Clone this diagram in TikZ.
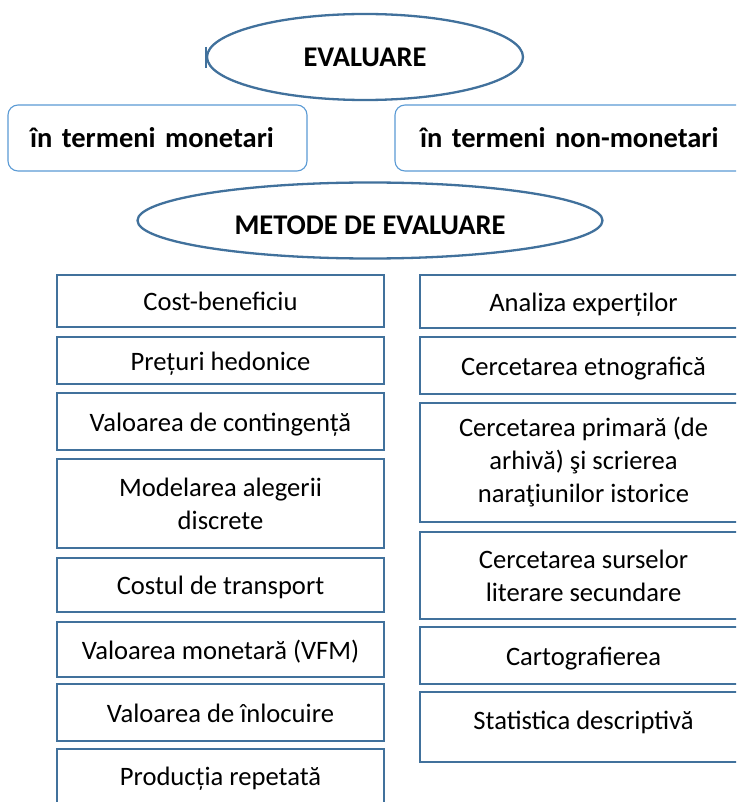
\documentclass[tikz,border=0pt]{standalone}
\usepackage{fontspec}
\setmainfont{Carlito}
\usetikzlibrary{shapes.geometric,calc}
\definecolor{edgeblue}{RGB}{65,113,156}
\definecolor{lightblue}{RGB}{91,155,213}
\begin{document}
\begin{tikzpicture}[x=1pt,y=-1pt,
  oval/.style={ellipse, draw=edgeblue, line width=2.3pt, inner sep=0pt,
    font=\fontsize{28.5}{34}\selectfont\bfseries},
  group/.style={rectangle, rounded corners=10pt, draw=lightblue, line width=1.1pt,
    inner ysep=0pt, align=left, minimum height=66pt,
    font=\fontsize{28.5}{34}\selectfont\bfseries},
  method/.style={rectangle, draw=edgeblue, line width=2.6pt, minimum width=327pt,
    inner sep=0pt, align=center, font=\fontsize{26.6}{33}\selectfont},
  oneline/.style={text height=21pt, text depth=2pt},
  label text/.style={inner sep=0pt, font=\fontsize{26.6}{33}\selectfont}]
\useasboundingbox (0,0) rectangle (736,802);
\clip (0,0) rectangle (736,802);
\fill[white] (0,0) rectangle (736,802);

% top ellipse
\node[oval, minimum width=316pt, minimum height=86pt] (eval) at (365,57) {EVALUARE};
\coordinate (tickA) at (206,47);
\coordinate (tickB) at (206,68);
\draw[edgeblue, line width=1.4pt] (tickA) -- (tickB);

% groups
\node[group, inner xsep=22pt, text width=255pt, minimum width=299pt] (mon) at (157.5,138) {în termeni monetari};
\node[group, inner xsep=25pt, text width=315pt, minimum width=365pt] (nonmon) at (577.5,138) {în termeni non-monetari};

% methods ellipse
\node[oval, minimum width=465pt, minimum height=76pt, text height=28pt, text depth=0pt] (met) at (370,220.5) {METODE DE EVALUARE};

% left column
\node[method, oneline, minimum height=52pt] (l1) at (220.5,301) {Cost-beneficiu};
\node[method, oneline, minimum height=47pt] (l2) at (220.5,360.5) {Prețuri hedonice};
\node[method, oneline, minimum height=57pt] (l3) at (220.5,421.5) {Valoarea de contingență};
\node[method, minimum height=89pt] (l4) at (220.5,503.5) {Modelarea alegerii\\discrete};
\node[method, oneline, minimum height=54pt] (l5) at (220.5,585) {Costul de transport};
\node[method, oneline, minimum height=55pt] (l6) at (220.5,649.5) {Valoarea monetară (VFM)};
\node[method, oneline, minimum height=57pt] (l7) at (220.5,712.5) {Valoarea de înlocuire};
\node[method, oneline, minimum height=54pt] (l8) at (220.5,776) {Producția repetată};

% right column
\node[method, oneline, minimum height=53pt] (r1) at (583.5,301.5) {Analiza experților};
\node[method, oneline, minimum height=57pt] (r2) at (583.5,365.5) {Cercetarea etnografică};
\node[method, minimum height=119pt] (r3) at (583.5,462.5) {Cercetarea primară (de\\arhivă) şi scrierea\\naraţiunilor istorice};
\node[method, minimum height=87pt] (r4) at (583.5,575.5) {Cercetarea surselor\\literare secundare};
\node[method, oneline, minimum height=57pt] (r5) at (583.5,655.5) {Cartografierea};
\node[method, minimum height=70pt] (r6) at (583.5,727) {};
\node[label text, oneline] (r6t) at (583.5,720) {Statistica descriptivă};
\end{tikzpicture}
\end{document}
